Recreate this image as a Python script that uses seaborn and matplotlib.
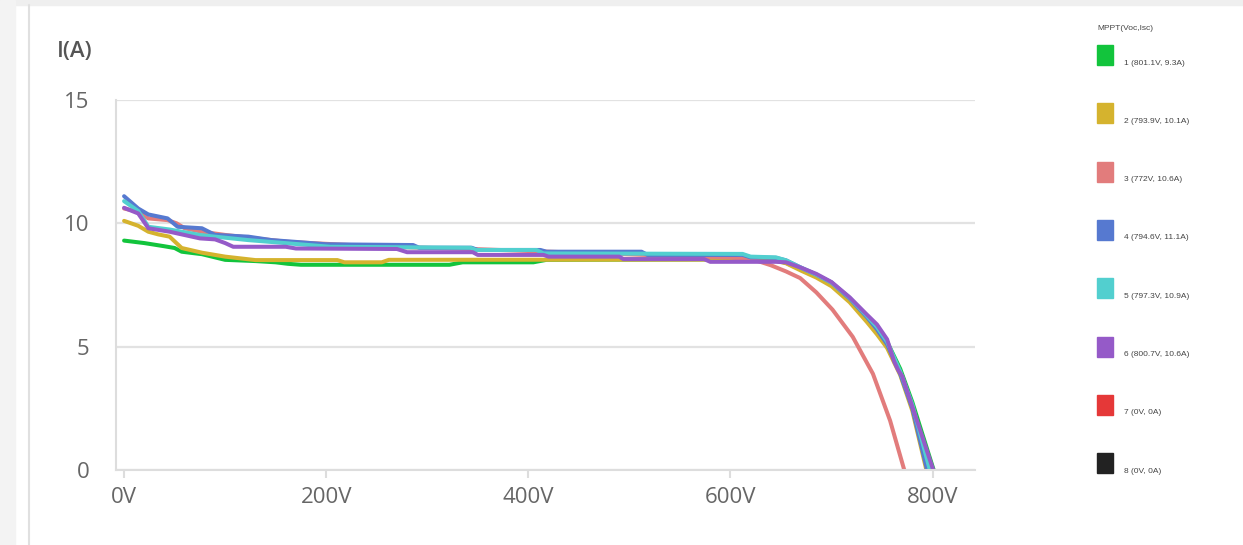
import matplotlib
matplotlib.use('Agg')
import matplotlib.pyplot as plt
import seaborn as sns
import pandas as pd
from matplotlib.patches import Rectangle

# MPPT 编号、开路电压、短路电流
mppt_ids = [1, 2, 3, 4, 5, 6, 7, 8]
voc = [801.1, 793.9, 772, 794.6, 797.3, 800.7, 0, 0]
isc = [9.3, 10.1, 10.6, 11.1, 10.9, 10.6, 0, 0]
colors = ['#12c43c', '#d5b32e', '#e27c7c', '#5679d0', '#52cfcf', '#955ac8', '#e53838', '#222222']

# 各路 I-V 曲线（电压 V，电流 A）
v1 = [0, 20, 40, 50, 57, 77, 90, 100, 130, 150, 162, 175, 322, 335, 405, 418, 640,
      655, 670, 685, 700, 718, 735, 745, 755, 768, 780, 801.1]
i1 = [9.3, 9.2, 9.07, 9.0, 8.85, 8.75, 8.62, 8.52, 8.47, 8.42, 8.36, 8.32, 8.32, 8.42, 8.42, 8.52, 8.55,
      8.4, 8.12, 7.88, 7.58, 6.95, 6.2, 5.75, 5.2, 4.1, 2.75, 0]

v2 = [0, 14, 24, 34, 45, 57, 77, 100, 130, 211, 218, 255, 262, 640,
      655, 670, 685, 700, 718, 735, 745, 755, 768, 780, 793.9]
i2 = [10.1, 9.9, 9.66, 9.55, 9.46, 9.0, 8.81, 8.65, 8.51, 8.51, 8.42, 8.42, 8.52, 8.53,
      8.38, 8.08, 7.8, 7.45, 6.8, 6.0, 5.5, 4.95, 3.85, 2.4, 0]

v3 = [0, 14, 24, 43, 52, 60, 77, 100, 130, 162, 209, 260, 350, 420, 515, 600,
      625, 640, 655, 669, 685, 701, 721, 741, 758, 772]
i3 = [10.6, 10.47, 10.2, 10.13, 10.0, 9.8, 9.66, 9.53, 9.39, 9.25, 9.15, 9.05, 8.95, 8.85, 8.72, 8.62,
      8.5, 8.3, 8.05, 7.78, 7.2, 6.5, 5.4, 3.9, 2.0, 0]

v4 = [0, 14, 24, 43, 53, 77, 90, 123, 146, 169, 200, 286, 292, 344, 350, 412, 418, 512, 518, 612, 620, 645,
      655, 670, 685, 700, 718, 735, 745, 755, 768, 780, 794.6]
i4 = [11.1, 10.6, 10.36, 10.2, 9.86, 9.8, 9.53, 9.46, 9.32, 9.25, 9.15, 9.12, 9.01, 9.01, 8.92, 8.92, 8.85, 8.85, 8.72, 8.72, 8.62, 8.6,
      8.5, 8.2, 7.92, 7.6, 6.95, 6.2, 5.7, 5.1, 3.9, 2.5, 0]

v5 = [0, 14, 24, 45, 75, 90, 123, 162, 204, 343, 348, 408, 415, 612, 620, 645,
      655, 670, 685, 700, 718, 735, 745, 755, 768, 780, 797.3]
i5 = [10.9, 10.5, 9.86, 9.75, 9.53, 9.46, 9.32, 9.19, 9.05, 9.01, 8.92, 8.92, 8.78, 8.76, 8.65, 8.62,
      8.5, 8.2, 7.92, 7.6, 6.98, 6.25, 5.8, 5.2, 4.0, 2.65, 0]

v6 = [0, 14, 24, 45, 75, 90, 100, 108, 160, 170, 270, 280, 345, 350, 415, 420, 490, 494, 574, 580, 645,
      655, 670, 685, 700, 718, 735, 745, 755, 762, 766, 770, 785, 800.7]
i6 = [10.63, 10.4, 9.8, 9.66, 9.39, 9.35, 9.2, 9.05, 9.05, 8.98, 8.96, 8.83, 8.83, 8.72, 8.72, 8.65, 8.65, 8.55, 8.55, 8.44, 8.44,
      8.42, 8.2, 7.95, 7.62, 7.0, 6.3, 5.9, 5.3, 4.4, 4.05, 3.8, 1.95, 0]

curves = {1: (v1, i1), 2: (v2, i2), 3: (v3, i3), 4: (v4, i4), 5: (v5, i5), 6: (v6, i6)}

rows = []
for k, (vv, ii) in curves.items():
    for a, b in zip(vv, ii):
        rows.append({'mppt': k, 'V': a, 'I': b})
df = pd.DataFrame(rows)

sns.set_theme(style='white')
plt.rcParams['font.family'] = ['Open Sans', 'DejaVu Sans']

fig = plt.figure(figsize=(12.43, 5.45), dpi=100)
ax = fig.add_axes([116 / 1243, 1 - 470 / 545, (975 - 116) / 1243, (470 - 100) / 545])

pal = {k: colors[k - 1] for k in curves}
sns.lineplot(data=df, x='V', y='I', hue='mppt', palette=pal, sort=False,
             linewidth=2.9, legend=False, ax=ax, solid_joinstyle='round', solid_capstyle='round')

ax.set_xlim(-8, 842)
ax.set_ylim(0, 15)
ax.set_xticks([0, 200, 400, 600, 800])
ax.set_xticklabels([f'{t}V' for t in [0, 200, 400, 600, 800]])
ax.set_yticks([0, 5, 10, 15])
ax.set_xlabel('')
ax.set_ylabel('')

# 网格与坐标轴样式
ax.grid(axis='y', color='#e2e2e2', linewidth=1.6)
ax.set_axisbelow(True)
for s in ['top', 'right']:
    ax.spines[s].set_visible(False)
for s in ['left', 'bottom']:
    ax.spines[s].set_color('#dddddd')
    ax.spines[s].set_linewidth(1.5)
ax.tick_params(axis='x', length=6, width=1.5, color='#dddddd', pad=6, labelsize=16, labelcolor='#666666', bottom=True)
ax.tick_params(axis='y', length=0, pad=19, labelsize=16, labelcolor='#666666')

fig.text(75 / 1243, 1 - 52 / 545, 'I(A)', ha='center', va='center', fontsize=16,
         color='#555555', fontweight='semibold')

# 页面背景边框
fig.patches.append(Rectangle((0, 1 - 5 / 545), 1, 5 / 545, transform=fig.transFigure,
                             color='#efefef', zorder=0))
fig.patches.append(Rectangle((0, 0), 15 / 1243, 1, transform=fig.transFigure,
                             color='#f3f3f3', zorder=0))
fig.add_artist(plt.Line2D([28.5 / 1243, 28.5 / 1243], [0, 1 - 5 / 545], transform=fig.transFigure,
                          color='#e0e0e0', linewidth=1.5))

# 图例
lx = 1097 / 1243
fig.text(lx, 1 - 28 / 545, 'MPPT(Voc,Isc)', ha='left', va='center', fontsize=6,
         color='#444444', family=['Liberation Sans'])
for n, (k, v, c, col) in enumerate(zip(mppt_ids, voc, isc, colors)):
    cy = 55 + n * 58.3
    fig.patches.append(Rectangle((lx, 1 - (cy + 10) / 545), 16 / 1243, 20 / 545,
                                 transform=fig.transFigure, color=col))
    fig.text(1124 / 1243, 1 - (cy + 8) / 545, f'{k} ({v:g}V, {c:g}A)', ha='left', va='center',
             fontsize=6, color='#444444', family=['Liberation Sans'])

fig.savefig('out.png', dpi=100)
plt.close('all')
